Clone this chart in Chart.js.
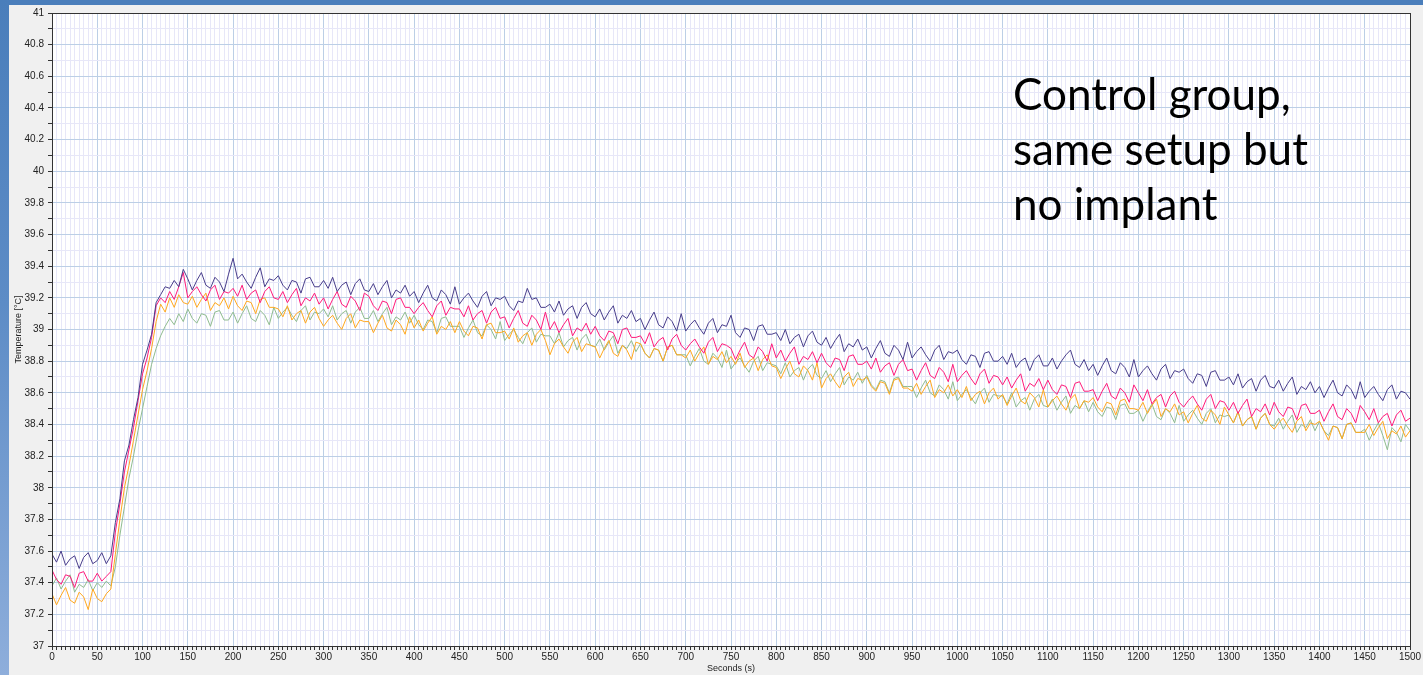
<!DOCTYPE html>
<html>
<head>
<meta charset="utf-8">
<title>Control group temperature</title>
<script src="https://cdn.jsdelivr.net/npm/chart.js@4.4.1/dist/chart.umd.min.js"></script>
<style>
  html, body {
    margin: 0;
    padding: 0;
    width: 1423px;
    height: 675px;
    overflow: hidden;
    background: #f0f0f0;
  }
  #frameTop {
    position: absolute;
    left: 0; top: 0;
    width: 1423px; height: 5px;
    background: #4a7ebb;
  }
  #frameLeft {
    position: absolute;
    left: 0; top: 0;
    width: 9px; height: 675px;
    background: linear-gradient(to bottom, #4a7ebb 0%, #5d8cc6 45%, #8eaedb 100%);
  }
  #chartBox {
    position: absolute;
    left: 0; top: 0;
    width: 1423px; height: 675px;
  }
  #note {
    position: absolute;
    left: 1013px;
    top: 66px;
    font-family: "Lato", "Open Sans", sans-serif;
    font-size: 44px;
    line-height: 55px;
    color: #000;
    white-space: pre;
  }
</style>
</head>
<body>
<div id="frameTop"></div>
<div id="frameLeft"></div>
<div id="chartBox"><canvas id="tempChart" width="1423" height="675"></canvas></div>
<div id="note">Control group,
same setup but
no implant</div>

<script>
/* =========================================================
   DATA  (one reading every 5 s, 0 .. 1500 s)
========================================================= */

const startSecond = 0;
const sampleStep = 5;

const seriesNames = ["Sensor 1", "Sensor 2", "Sensor 3", "Sensor 4"];

const sensor1 = [
  37.58, 37.53, 37.60, 37.51, 37.55, 37.57, 37.49, 37.56, 37.59, 37.52,
  37.54, 37.59, 37.52, 37.57, 37.78, 37.93, 38.17, 38.27, 38.43, 38.57,
  38.78, 38.87, 38.97, 39.17, 39.22, 39.27, 39.26, 39.31, 39.27, 39.38,
  39.32, 39.25, 39.31, 39.36, 39.28, 39.26, 39.33, 39.30, 39.24, 39.35,
  39.45, 39.32, 39.35, 39.30, 39.26, 39.33, 39.39, 39.27, 39.32, 39.31,
  39.34, 39.28, 39.25, 39.31, 39.30, 39.23, 39.32, 39.33, 39.27, 39.27,
  39.31, 39.26, 39.33, 39.24, 39.28, 39.30, 39.22, 39.29, 39.32, 39.25,
  39.24, 39.29, 39.22, 39.27, 39.31, 39.20, 39.25, 39.23, 39.28, 39.21,
  39.24, 39.17, 39.23, 39.28, 39.20, 39.18, 39.25, 39.22, 39.16, 39.27,
  39.16, 39.20, 39.23, 39.18, 39.14, 39.21, 39.24, 39.15, 39.20, 39.19,
  39.21, 39.15, 39.12, 39.18, 39.17, 39.26, 39.19, 39.20, 39.14, 39.14,
  39.16, 39.11, 39.18, 39.09, 39.13, 39.15, 39.07, 39.14, 39.17, 39.10,
  39.08, 39.13, 39.06, 39.11, 39.15, 39.04, 39.09, 39.07, 39.12, 39.05,
  39.07, 39.00, 39.06, 39.11, 39.03, 39.01, 39.08, 39.05, 38.99, 39.10,
  38.99, 39.03, 39.06, 39.01, 38.97, 39.04, 39.07, 38.98, 39.03, 39.02,
  39.09, 38.98, 38.95, 39.01, 39.00, 38.93, 39.02, 39.03, 38.97, 38.97,
  38.98, 38.93, 39.00, 38.91, 38.95, 38.97, 38.89, 38.96, 38.99, 38.92,
  38.90, 38.95, 38.88, 38.93, 38.97, 38.86, 38.91, 38.89, 38.94, 38.87,
  38.89, 38.82, 38.88, 38.93, 38.85, 38.83, 38.90, 38.87, 38.81, 38.92,
  38.82, 38.86, 38.89, 38.84, 38.80, 38.87, 38.90, 38.81, 38.86, 38.85,
  38.87, 38.81, 38.78, 38.84, 38.83, 38.76, 38.85, 38.86, 38.80, 38.80,
  38.83, 38.78, 38.85, 38.76, 38.80, 38.82, 38.74, 38.81, 38.84, 38.77,
  38.77, 38.82, 38.75, 38.80, 38.84, 38.87, 38.78, 38.76, 38.81, 38.74,
  38.78, 38.71, 38.77, 38.82, 38.74, 38.72, 38.79, 38.76, 38.70, 38.81,
  38.70, 38.74, 38.77, 38.72, 38.68, 38.75, 38.78, 38.69, 38.74, 38.73,
  38.75, 38.69, 38.66, 38.72, 38.71, 38.64, 38.73, 38.74, 38.68, 38.68,
  38.70, 38.65, 38.72, 38.63, 38.67, 38.69, 38.61, 38.68, 38.71, 38.64,
  38.63, 38.68, 38.61, 38.66, 38.70, 38.59, 38.64, 38.62, 38.67, 38.60,
  38.64, 38.57, 38.63, 38.68, 38.60, 38.58, 38.65, 38.62, 38.56, 38.67,
  38.57, 38.61, 38.64, 38.59, 38.55, 38.62, 38.65, 38.56, 38.61, 38.60,
  38.56
];

const sensor2 = [
  37.48, 37.42, 37.39, 37.45, 37.44, 37.37, 37.46, 37.47, 37.41, 37.41,
  37.46, 37.41, 37.44, 37.47, 37.72, 37.90, 38.10, 38.24, 38.38, 38.55,
  38.72, 38.82, 38.95, 39.15, 39.20, 39.17, 39.24, 39.19, 39.27, 39.36,
  39.20, 39.24, 39.27, 39.22, 39.18, 39.25, 39.28, 39.19, 39.24, 39.23,
  39.26, 39.21, 39.28, 39.19, 39.23, 39.25, 39.17, 39.24, 39.27, 39.20,
  39.19, 39.24, 39.17, 39.22, 39.26, 39.15, 39.20, 39.18, 39.23, 39.16,
  39.20, 39.13, 39.19, 39.24, 39.16, 39.14, 39.21, 39.18, 39.12, 39.23,
  39.21, 39.15, 39.12, 39.18, 39.17, 39.10, 39.19, 39.20, 39.14, 39.14,
  39.10, 39.14, 39.17, 39.12, 39.08, 39.15, 39.18, 39.09, 39.14, 39.13,
  39.13, 39.08, 39.15, 39.06, 39.10, 39.12, 39.04, 39.11, 39.14, 39.07,
  39.08, 39.01, 39.07, 39.12, 39.04, 39.02, 39.09, 39.06, 39.00, 39.11,
  39.00, 39.05, 38.98, 39.03, 39.07, 38.96, 39.01, 38.99, 39.04, 38.97,
  39.02, 38.96, 38.93, 38.99, 38.98, 38.91, 39.00, 39.01, 38.95, 38.95,
  38.96, 38.91, 38.98, 38.89, 38.93, 38.95, 38.87, 38.94, 38.97, 38.90,
  38.87, 38.91, 38.94, 38.89, 38.85, 38.92, 38.95, 38.86, 38.91, 38.90,
  38.88, 38.81, 38.87, 38.92, 38.84, 38.82, 38.89, 38.86, 38.80, 38.91,
  38.82, 38.87, 38.80, 38.85, 38.89, 38.78, 38.83, 38.81, 38.86, 38.79,
  38.85, 38.79, 38.76, 38.82, 38.81, 38.74, 38.83, 38.84, 38.78, 38.78,
  38.80, 38.75, 38.82, 38.73, 38.77, 38.79, 38.71, 38.78, 38.81, 38.74,
  38.75, 38.68, 38.74, 38.79, 38.71, 38.69, 38.76, 38.73, 38.67, 38.78,
  38.67, 38.71, 38.74, 38.69, 38.65, 38.72, 38.75, 38.66, 38.71, 38.70,
  38.65, 38.70, 38.63, 38.68, 38.72, 38.61, 38.66, 38.64, 38.69, 38.62,
  38.68, 38.62, 38.59, 38.65, 38.64, 38.57, 38.66, 38.67, 38.61, 38.61,
  38.62, 38.55, 38.61, 38.66, 38.58, 38.56, 38.63, 38.60, 38.54, 38.65,
  38.60, 38.55, 38.62, 38.53, 38.57, 38.59, 38.51, 38.58, 38.61, 38.54,
  38.51, 38.55, 38.58, 38.53, 38.49, 38.56, 38.59, 38.50, 38.55, 38.54,
  38.49, 38.54, 38.47, 38.52, 38.56, 38.45, 38.50, 38.48, 38.53, 38.46,
  38.54, 38.48, 38.45, 38.51, 38.50, 38.43, 38.52, 38.53, 38.47, 38.47,
  38.49, 38.42, 38.48, 38.53, 38.45, 38.43, 38.50, 38.47, 38.41, 38.52,
  38.48, 38.43, 38.50, 38.41, 38.45, 38.47, 38.39, 38.46, 38.49, 38.42,
  38.44
];

const sensor3 = [
  37.33, 37.26, 37.32, 37.37, 37.29, 37.27, 37.34, 37.31, 37.23, 37.36,
  37.30, 37.28, 37.33, 37.36, 37.58, 37.80, 38.00, 38.14, 38.30, 38.46,
  38.62, 38.74, 38.88, 39.05, 39.16, 39.11, 39.20, 39.14, 39.22, 39.17,
  39.16, 39.21, 39.14, 39.19, 39.23, 39.12, 39.17, 39.15, 39.20, 39.13,
  39.21, 39.15, 39.12, 39.18, 39.17, 39.10, 39.19, 39.20, 39.14, 39.14,
  39.13, 39.08, 39.15, 39.06, 39.10, 39.12, 39.04, 39.11, 39.14, 39.07,
  39.02, 39.06, 39.09, 39.04, 39.00, 39.07, 39.10, 39.01, 39.06, 39.05,
  39.05, 38.98, 39.04, 39.09, 39.01, 38.99, 39.06, 39.03, 38.97, 39.08,
  39.01, 39.06, 38.99, 39.04, 39.08, 38.97, 39.02, 39.00, 39.05, 38.98,
  39.05, 38.99, 38.96, 39.02, 39.01, 38.94, 39.03, 39.04, 38.98, 38.98,
  38.99, 38.94, 39.01, 38.92, 38.96, 38.98, 38.90, 38.97, 39.00, 38.93,
  38.84, 38.91, 38.94, 38.89, 38.85, 38.92, 38.95, 38.86, 38.91, 38.90,
  38.89, 38.82, 38.88, 38.93, 38.85, 38.83, 38.90, 38.87, 38.81, 38.92,
  38.91, 38.85, 38.82, 38.88, 38.87, 38.80, 38.89, 38.90, 38.84, 38.84,
  38.82, 38.87, 38.80, 38.85, 38.89, 38.78, 38.83, 38.81, 38.86, 38.79,
  38.83, 38.78, 38.85, 38.76, 38.80, 38.82, 38.74, 38.81, 38.84, 38.77,
  38.76, 38.69, 38.75, 38.80, 38.72, 38.70, 38.77, 38.74, 38.68, 38.79,
  38.63, 38.69, 38.72, 38.67, 38.63, 38.70, 38.73, 38.64, 38.69, 38.68,
  38.70, 38.64, 38.61, 38.67, 38.66, 38.59, 38.68, 38.69, 38.63, 38.63,
  38.61, 38.66, 38.59, 38.64, 38.68, 38.57, 38.62, 38.60, 38.65, 38.58,
  38.62, 38.57, 38.64, 38.55, 38.59, 38.61, 38.53, 38.60, 38.63, 38.56,
  38.59, 38.52, 38.58, 38.63, 38.55, 38.53, 38.60, 38.57, 38.51, 38.62,
  38.51, 38.55, 38.58, 38.53, 38.49, 38.56, 38.59, 38.50, 38.55, 38.54,
  38.57, 38.51, 38.48, 38.54, 38.53, 38.46, 38.55, 38.56, 38.50, 38.50,
  38.49, 38.54, 38.47, 38.52, 38.56, 38.45, 38.50, 38.48, 38.53, 38.46,
  38.48, 38.41, 38.47, 38.52, 38.44, 38.42, 38.49, 38.46, 38.40, 38.51,
  38.46, 38.41, 38.48, 38.39, 38.43, 38.45, 38.37, 38.44, 38.47, 38.40,
  38.37, 38.41, 38.44, 38.39, 38.35, 38.42, 38.45, 38.36, 38.41, 38.40,
  38.42, 38.36, 38.30, 38.39, 38.38, 38.31, 38.40, 38.41, 38.35, 38.35,
  38.35, 38.40, 38.33, 38.38, 38.42, 38.31, 38.36, 38.34, 38.39, 38.32,
  38.36
];

const sensor4 = [
  37.38, 37.43, 37.36, 37.41, 37.45, 37.34, 37.39, 37.37, 37.42, 37.35,
  37.40, 37.37, 37.41, 37.38, 37.50, 37.70, 37.88, 38.06, 38.20, 38.36,
  38.50, 38.64, 38.78, 38.88, 38.96, 39.02, 39.07, 39.03, 39.10, 39.05,
  39.13, 39.07, 39.04, 39.10, 39.09, 39.02, 39.11, 39.12, 39.06, 39.06,
  39.11, 39.04, 39.10, 39.15, 39.07, 39.05, 39.12, 39.09, 39.03, 39.14,
  39.07, 39.11, 39.14, 39.09, 39.05, 39.12, 39.15, 39.06, 39.11, 39.10,
  39.13, 39.08, 39.15, 39.06, 39.10, 39.12, 39.04, 39.11, 39.14, 39.07,
  39.07, 39.12, 39.05, 39.10, 39.14, 39.03, 39.08, 39.06, 39.11, 39.04,
  39.09, 39.03, 39.00, 39.06, 39.05, 38.98, 39.07, 39.08, 39.02, 39.02,
  39.02, 38.95, 39.01, 39.06, 38.98, 38.96, 39.03, 39.00, 38.94, 39.05,
  38.93, 38.97, 39.00, 38.95, 38.91, 38.98, 39.01, 38.92, 38.97, 38.96,
  38.96, 38.91, 38.98, 38.89, 38.93, 38.95, 38.87, 38.94, 38.97, 38.90,
  38.89, 38.94, 38.87, 38.92, 38.96, 38.85, 38.90, 38.88, 38.93, 38.86,
  38.91, 38.85, 38.82, 38.88, 38.87, 38.80, 38.89, 38.90, 38.84, 38.84,
  38.84, 38.77, 38.83, 38.88, 38.80, 38.78, 38.85, 38.82, 38.76, 38.87,
  38.75, 38.79, 38.82, 38.77, 38.73, 38.80, 38.83, 38.74, 38.79, 38.78,
  38.77, 38.72, 38.79, 38.70, 38.74, 38.76, 38.68, 38.75, 38.78, 38.71,
  38.69, 38.74, 38.67, 38.72, 38.76, 38.65, 38.70, 38.68, 38.73, 38.66,
  38.71, 38.65, 38.62, 38.68, 38.67, 38.60, 38.69, 38.70, 38.64, 38.64,
  38.64, 38.57, 38.63, 38.68, 38.60, 38.58, 38.65, 38.62, 38.56, 38.67,
  38.55, 38.59, 38.62, 38.57, 38.53, 38.60, 38.63, 38.54, 38.59, 38.58,
  38.58, 38.53, 38.60, 38.51, 38.55, 38.57, 38.49, 38.56, 38.59, 38.52,
  38.51, 38.56, 38.49, 38.54, 38.58, 38.47, 38.52, 38.50, 38.55, 38.48,
  38.54, 38.48, 38.45, 38.51, 38.50, 38.43, 38.52, 38.53, 38.47, 38.47,
  38.49, 38.42, 38.48, 38.53, 38.45, 38.43, 38.50, 38.47, 38.41, 38.52,
  38.42, 38.46, 38.49, 38.44, 38.40, 38.47, 38.50, 38.41, 38.46, 38.45,
  38.46, 38.41, 38.48, 38.39, 38.43, 38.45, 38.37, 38.44, 38.47, 38.40,
  38.39, 38.44, 38.37, 38.42, 38.46, 38.35, 38.40, 38.38, 38.43, 38.36,
  38.42, 38.36, 38.33, 38.39, 38.38, 38.31, 38.40, 38.41, 38.35, 38.35,
  38.37, 38.30, 38.36, 38.41, 38.33, 38.24, 38.38, 38.35, 38.29, 38.40,
  38.36
];

const seriesColors = ["#483d8b", "#ff1a7a", "#ffa81e", "#8fbc8f"];

const xMin = 0, xMax = 1500, xMinorStep = 5, xLabelStep = 50;
const yMin = 37, yMax = 41, yMinorStep = 0.1;

const xTitle = "Seconds (s)";
const yTitle = "Temperature [\u00B0C]";

/* =========================================================
   HELPERS
========================================================= */

const seconds = sensor1.map((_, i) => startSecond + i * sampleStep);

const majorGrid = "#bccfe6";
const minorGrid = "#e7e7f8";

function isXMajor(v) {
  return Math.round(v) % xLabelStep === 0;
}

function isYMajor(v) {
  return Math.round(v * 10) % 2 === 0;
}

/* white plot area + dark frame round it */
const plotFrame = {
  id: "plotFrame",
  beforeDraw(chart) {
    const { ctx, chartArea: a } = chart;
    ctx.save();
    ctx.fillStyle = "#ffffff";
    ctx.fillRect(a.left, a.top, a.right - a.left, a.bottom - a.top);
    ctx.restore();
  },
  afterDraw(chart) {
    const { ctx, chartArea: a } = chart;
    ctx.save();
    ctx.strokeStyle = "#333333";
    ctx.lineWidth = 1;
    ctx.strokeRect(Math.round(a.left) + 0.5, Math.round(a.top) + 0.5,
      Math.round(a.right - a.left), Math.round(a.bottom - a.top));
    ctx.restore();
  }
};

/* =========================================================
   CHART
========================================================= */

const tempChart = new Chart(document.getElementById("tempChart"), {
  type: "line",
  data: {
    labels: seconds,
    datasets: [sensor1, sensor2, sensor3, sensor4].map((values, i) => ({
      label: seriesNames[i],
      data: values,
      borderColor: seriesColors[i],
      borderWidth: 1,
      pointRadius: 0,
      tension: 0,
      fill: false
    }))
  },
  options: {
    responsive: false,
    animation: false,
    layout: { padding: { left: 0, top: 13, right: 13, bottom: 0 } },
    plugins: {
      legend: { display: false },
      tooltip: { enabled: false }
    },
    scales: {
      x: {
        type: "linear",
        min: xMin,
        max: xMax,
        afterFit(scale) { scale.height = 29; },
        grid: {
          color: ctx => (ctx.tick && isXMajor(ctx.tick.value) ? majorGrid : minorGrid),
          tickColor: "#333333",
          tickLength: 4,
          lineWidth: 1
        },
        border: { color: "#333333" },
        ticks: {
          stepSize: xMinorStep,
          autoSkip: false,
          maxRotation: 0,
          padding: 1,
          color: "#222222",
          font: { family: "Liberation Sans", size: 10 },
          callback: v => (isXMajor(v) ? String(v) : "")
        },
        title: {
          display: true,
          text: xTitle,
          color: "#222222",
          font: { family: "Liberation Sans", size: 9 },
          padding: { top: 0, bottom: 1 }
        }
      },
      y: {
        min: yMin,
        max: yMax,
        afterFit(scale) { scale.width = 52; },
        grid: {
          color: ctx => (ctx.tick && isYMajor(ctx.tick.value) ? majorGrid : minorGrid),
          tickColor: "#333333",
          tickLength: 4,
          lineWidth: 1
        },
        border: { color: "#333333" },
        ticks: {
          stepSize: yMinorStep,
          autoSkip: false,
          padding: 4,
          color: "#222222",
          font: { family: "Liberation Sans", size: 10 },
          callback: v => {
            if (!isYMajor(v)) return "";
            const r = Math.round(v * 10) / 10;
            return Number.isInteger(r) ? String(r) : r.toFixed(1);
          }
        },
        title: {
          display: true,
          text: yTitle,
          color: "#222222",
          font: { family: "Liberation Sans", size: 9 },
          padding: { top: 13, bottom: 0 }
        }
      }
    }
  },
  plugins: [plotFrame]
});
</script>
</body>
</html>
